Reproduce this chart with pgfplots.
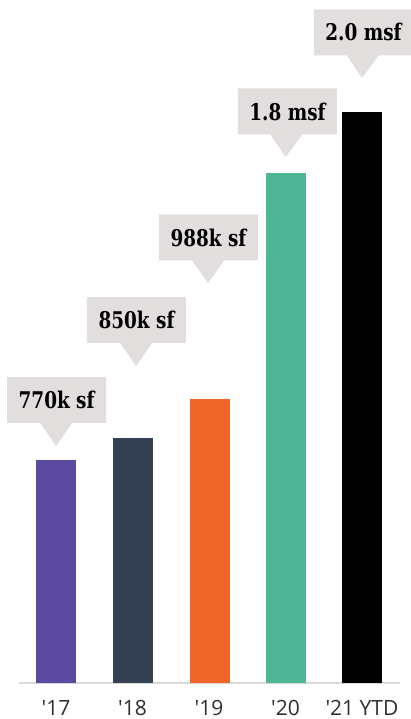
\documentclass[border=0pt]{standalone}
\usepackage{fontspec}
\usepackage{pgfplots}
\pgfplotsset{compat=1.18}
\usetikzlibrary{shapes.callouts}
\newfontfamily\slab{DejaVu Serif}[BoldFont={DejaVu Serif Bold}, FakeStretch=0.80]
\newfontfamily\tickfont{Open Sans}
\definecolor{cPurple}{HTML}{5B4A9F}
\definecolor{cSlate}{HTML}{344154}
\definecolor{cOrange}{HTML}{EF652A}
\definecolor{cTeal}{HTML}{4EB597}
\definecolor{cBox}{HTML}{E1DEDD}
\definecolor{cLine}{HTML}{D9D9D9}
\definecolor{cTick}{HTML}{2E2E2E}
\tikzset{lbl/.style={rectangle callout, fill=cBox, draw=none, inner sep=0pt,
  minimum width=99bp, minimum height=46bp, callout pointer width=32bp,
  font=\slab\bfseries\fontsize{23bp}{26bp}\selectfont, text=black}}
\begin{document}
\begin{tikzpicture}
\begin{axis}[
  scale only axis, width=381bp, height=683bp,
  xmin=-0.484, xmax=4.497, ymin=0, ymax=2384,
  ybar, bar width=40bp,
  axis x line*=bottom, axis y line=none,
  x axis line style={draw=cLine, line width=1.3bp, -},
  xtick={0,1,2,3,4},
  xticklabels={\textquotesingle17,\textquotesingle18,\textquotesingle19,\textquotesingle20,\textquotesingle21 YTD},
  major tick length=0pt,
  xticklabel style={anchor=base, yshift=-32bp, text=cTick, font=\tickfont\fontsize{21bp}{23bp}\selectfont},
  clip=false,
]
\addplot[fill=cPurple, draw=none, bar shift=0pt] coordinates {(0,778)};
\addplot[fill=cSlate, draw=none, bar shift=0pt] coordinates {(1.01,855)};
\addplot[fill=cOrange, draw=none, bar shift=0pt] coordinates {(2.01,991)};
\addplot[fill=cTeal, draw=none, bar shift=0pt] coordinates {(3.01,1780)};
\addplot[fill=black, draw=none, bar shift=0pt] coordinates {(4.0,1993)};
\node[lbl, callout absolute pointer={(axis cs:0,827)}] at (axis cs:0.007,988) {770k sf};
\node[lbl, callout absolute pointer={(axis cs:1.046,1106)}] at (axis cs:1.052,1267) {850k sf};
\node[lbl, callout absolute pointer={(axis cs:1.987,1396)}] at (axis cs:1.993,1555) {988k sf};
\node[lbl, callout absolute pointer={(axis cs:3.0,1836)}] at (axis cs:3.026,1995) {1.8 msf};
\node[lbl, callout absolute pointer={(axis cs:4.0,2112)}] at (axis cs:4.02,2271) {2.0 msf};
\end{axis}
\pgfresetboundingbox
\path[use as bounding box] (-19bp,-36bp) rectangle (392bp,683bp);
\end{tikzpicture}
\end{document}
